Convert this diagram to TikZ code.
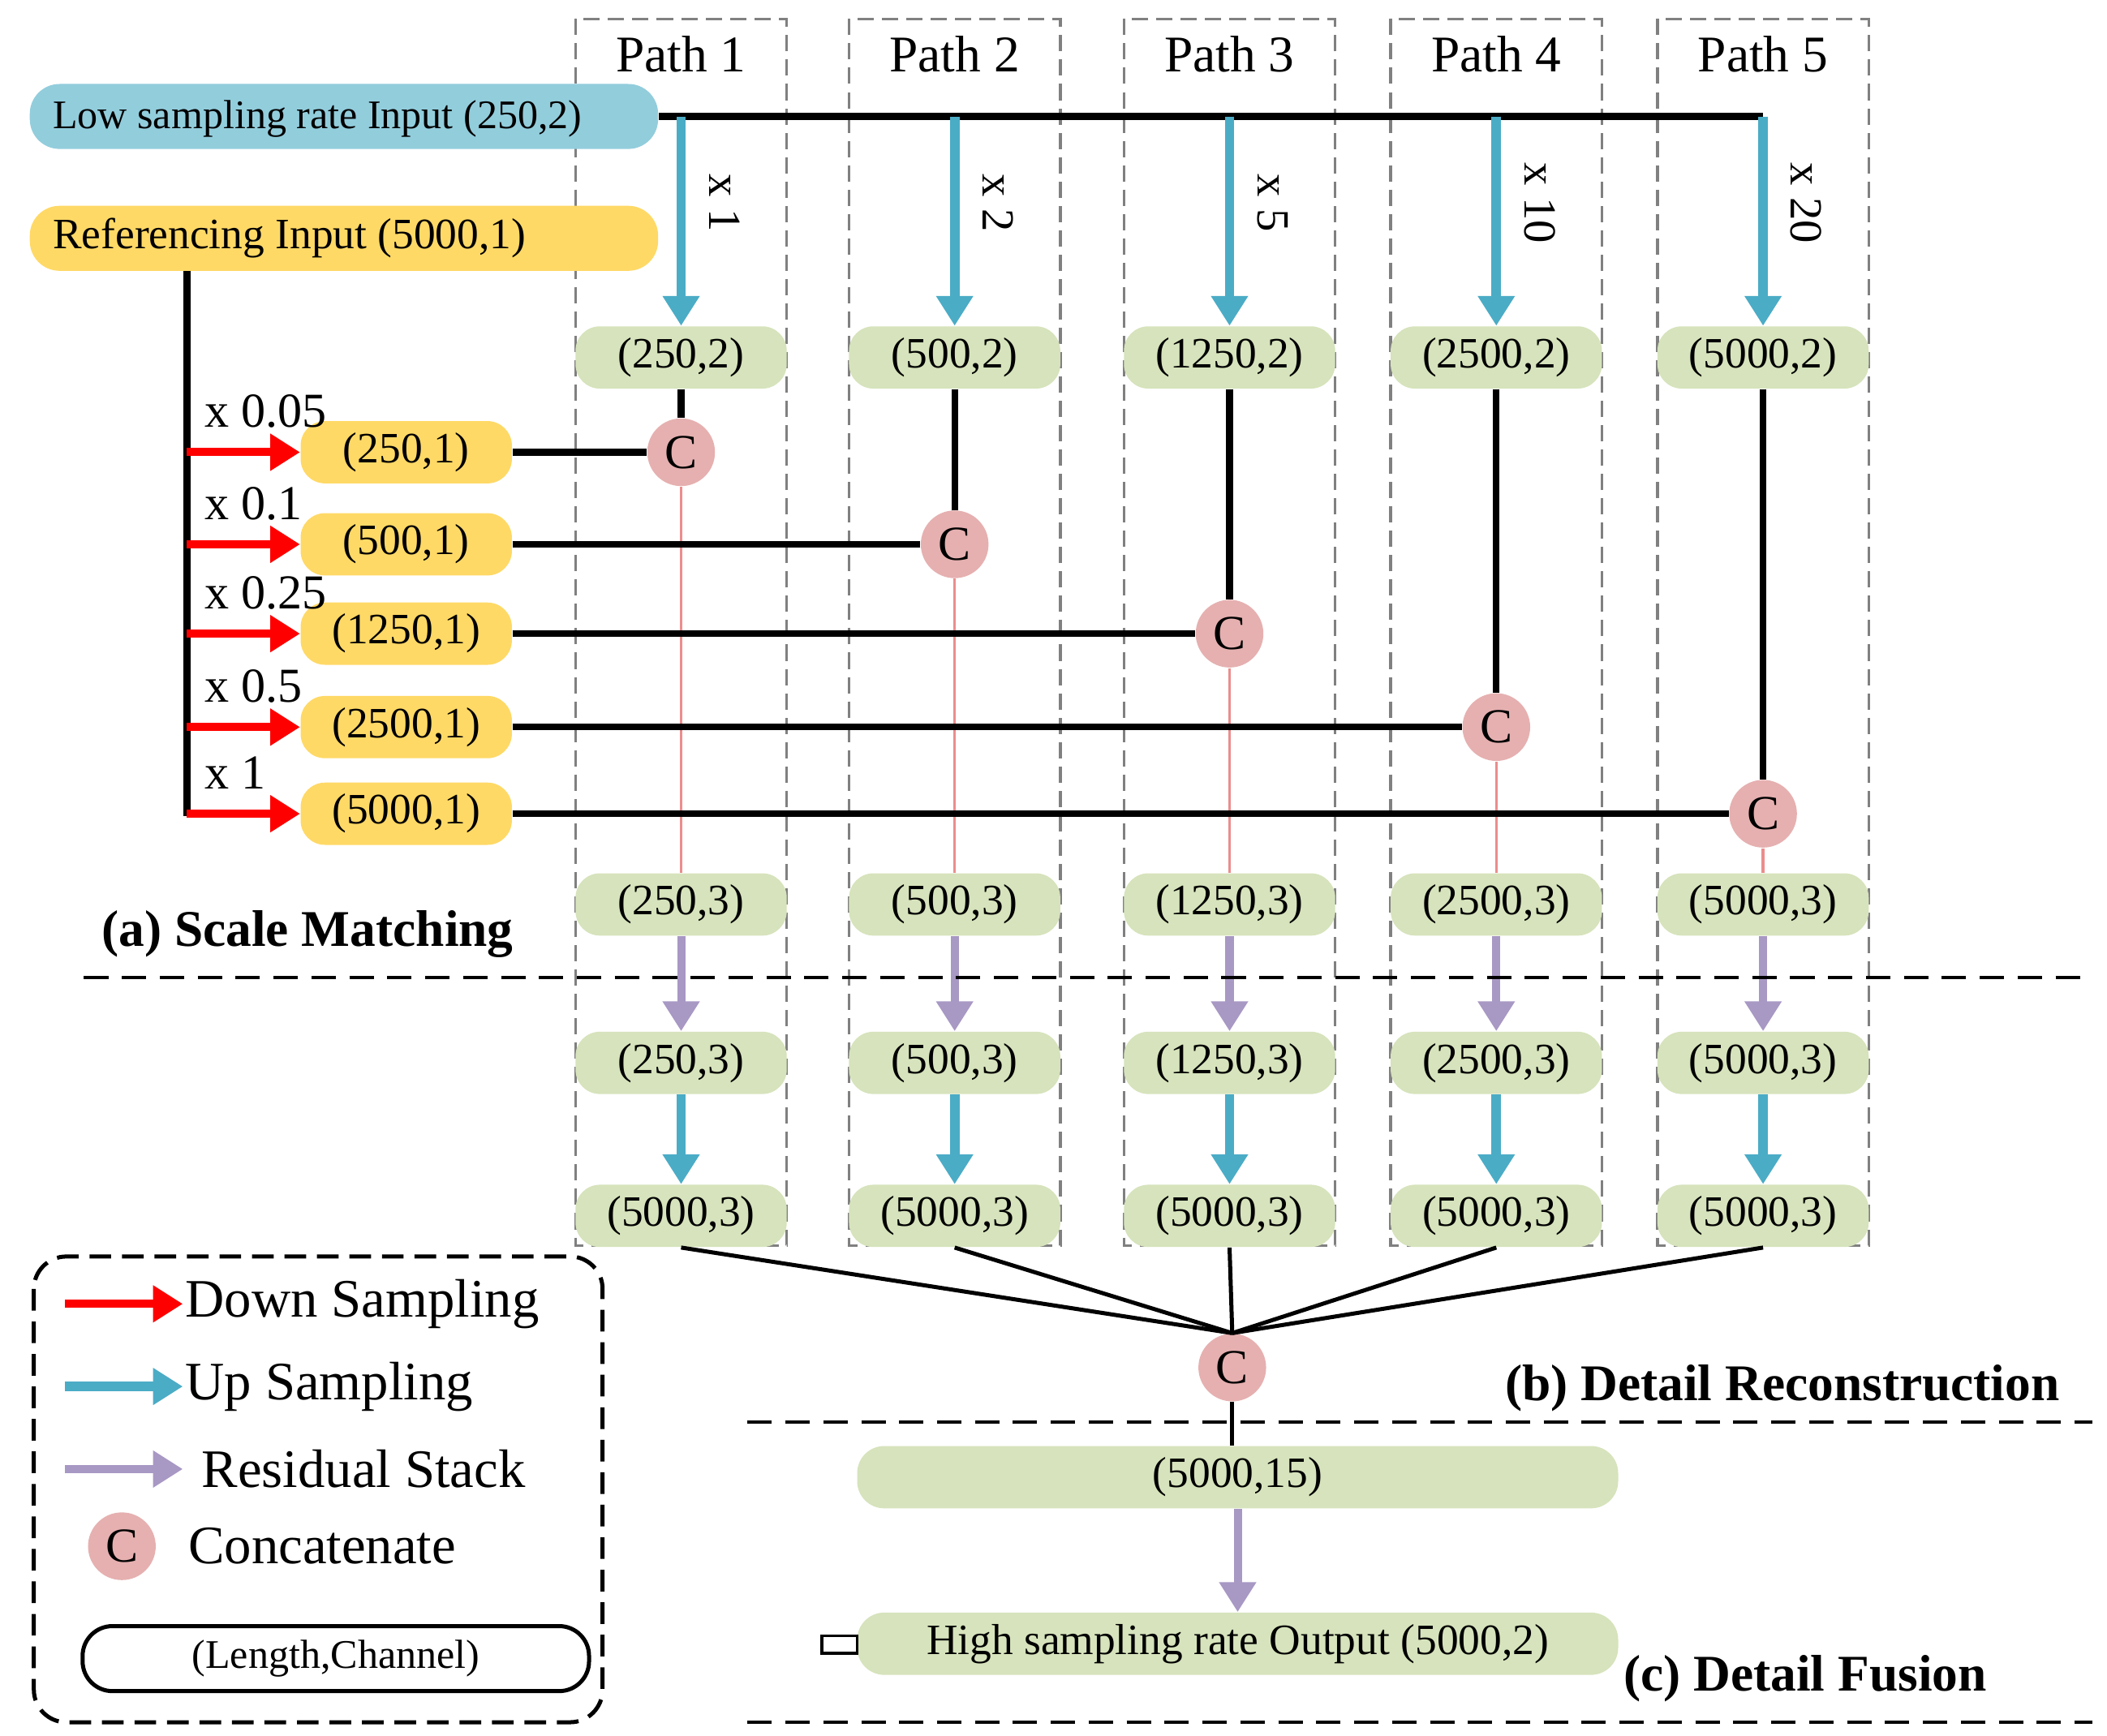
\documentclass[tikz,border=0pt]{standalone}
\usepackage{fontspec}
\setmainfont{Liberation Serif}
\usetikzlibrary{arrows.meta}
\definecolor{gbox}{RGB}{214,227,188}
\definecolor{ybox}{RGB}{255,217,102}
\definecolor{bbox}{RGB}{146,205,220}
\definecolor{cc}{RGB}{230,176,176}
\definecolor{upc}{RGB}{75,172,198}
\definecolor{resc}{RGB}{168,152,196}
\begin{document}
\begin{tikzpicture}[x=0.5pt,y=-0.5pt,
 g/.style={fill=gbox,rounded corners=9pt,minimum width=78pt,minimum height=23pt,inner sep=0pt,font=\fontsize{16}{16}\selectfont},
 yb/.style={fill=ybox,rounded corners=9pt,minimum width=78pt,minimum height=23pt,inner sep=0pt,font=\fontsize{16}{16}\selectfont},
 cn/.style={circle,fill=cc,minimum size=25pt,inner sep=0pt,font=\fontsize{18}{18}\selectfont},
 up/.style={-{Triangle[length=11pt,width=13pt]},line width=3.5pt,draw=upc},
 dn/.style={-{Triangle[length=11pt,width=13pt]},line width=3pt,draw=red},
 res/.style={-{Triangle[length=11pt,width=13pt]},line width=3pt,draw=resc},
 blk/.style={line width=2.5pt},
 pbox/.style={draw=gray,line width=1pt,dash pattern=on 6pt off 3pt},
 sep/.style={line width=1.2pt,dash pattern=on 9pt off 5pt}]
\useasboundingbox (0,0) rectangle (1556,1282);
\foreach \x/\i in {503/1,705/2,908/3,1105/4,1302/5}{
 \draw[pbox] (\x-78,14) rectangle (\x+78,920);
 \node[font=\fontsize{19}{19}\selectfont] (p\i) at (\x,40) {Path \i};
}
\node[fill=bbox,rounded corners=11pt,minimum width=232pt,minimum height=24pt,inner sep=0pt,font=\fontsize{15}{15}\selectfont] (low) at (254,86) {};
\node[anchor=west,font=\fontsize{15}{15}\selectfont] (lowt) at (32,88) {Low sampling rate Input (250,2)};
\node[fill=ybox,rounded corners=11pt,minimum width=232pt,minimum height=24pt,inner sep=0pt] (ref) at (254,176) {};
\node[anchor=west,font=\fontsize{16}{16}\selectfont] (reft) at (32,176) {Referencing Input (5000,1)};
\coordinate (tr) at (1302,86);
\draw[blk] (low.east) -- (tr);
\foreach \x/\i/\m/\lr in {503/1/x 1/250,705/2/x 2/500,908/3/x 5/1250,1105/4/x 10/2500,1302/5/x 20/5000}{
 \coordinate (t\i) at (\x,86);
 \node[g] (a\i) at (\x,264) {(\lr,2)};
 \draw[up] (t\i) -- (a\i.north);
 \node[rotate=-90,font=\fontsize{17}{17}\selectfont] (m\i) at (\x+32,150) {\m};
 \node[g] (b\i) at (\x,668) {(\lr,3)};
 \node[g] (d\i) at (\x,785) {(\lr,3)};
 \node[g] (e\i) at (\x,898) {(5000,3)};
 \draw[res] (b\i.south) -- (d\i.north);
 \draw[up] (d\i.south) -- (e\i.north);
}
\coordinate (vt) at (138,200);
\coordinate (vb) at (138,603);
\draw[blk] (vt) -- (vb);
\foreach \x/\y/\i/\lr/\lo in {503/334/1/250/0.05,705/402/2/500/0.1,908/468/3/1250/0.25,1105/537/4/2500/0.5,1302/601/5/5000/1}{
 \node[yb] (y\i) at (300,\y) {(\lr,1)};
 \node[cn] (c\i) at (\x,\y) {C};
 \coordinate (s\i) at (138,\y);
 \draw[dn] (s\i) -- (y\i.west);
 \node[anchor=west,font=\fontsize{18}{18}\selectfont] (l\i) at (144,\y-30) {x \lo};
 \draw[blk] (y\i.east) -- (c\i.west);
 \draw[blk] (a\i.south) -- (c\i.north);
 \draw[cc!80!red,line width=1pt] (c\i.south) -- (b\i.north);
}
\node[anchor=west,font=\bfseries\fontsize{19}{19}\selectfont] (ta) at (68,690) {(a) Scale Matching};
\coordinate (s1a) at (62,722); \coordinate (s1b) at (1545,722);
\draw[sep] (s1a) -- (s1b);
\node[cn] (cf) at (910,1010) {C};
\foreach \i in {1,...,5}{\draw[line width=1.5pt] (e\i.south) -- (cf.north);}
\node[anchor=east,font=\bfseries\fontsize{19}{19}\selectfont] (tb) at (1528,1025) {(b) Detail Reconstruction};
\coordinate (s2a) at (552,1050); \coordinate (s2b) at (1545,1050);
\draw[sep] (s2a) -- (s2b);
\node[fill=gbox,rounded corners=10pt,minimum width=281pt,minimum height=23pt,inner sep=0pt,font=\fontsize{16}{16}\selectfont] (w) at (914,1091) {(5000,15)};
\draw[line width=1.5pt] (cf.south) -- (w.north -| cf);
\node[fill=gbox,rounded corners=10pt,minimum width=281pt,minimum height=23pt,inner sep=0pt,font=\fontsize{16}{16}\selectfont] (out) at (914,1214) {High sampling rate Output (5000,2)};
\draw[res] (w.south) -- (out.north);
\draw[line width=1pt] (607,1208) rectangle (633,1221);
\node[anchor=west,font=\bfseries\fontsize{19}{19}\selectfont] (tc) at (1192,1240) {(c) Detail Fusion};
\coordinate (s3a) at (552,1272); \coordinate (s3b) at (1545,1272);
\draw[sep] (s3a) -- (s3b);
\draw[line width=1.5pt,dash pattern=on 8pt off 4pt,rounded corners=12pt] (25,928) rectangle (445,1272);
\coordinate (la1) at (48,963); \coordinate (lb1) at (135,963);
\draw[dn] (la1) -- (lb1);
\node[anchor=west,font=\fontsize{20}{20}\selectfont] (lt1) at (130,963) {Down Sampling};
\coordinate (la2) at (48,1024); \coordinate (lb2) at (135,1024);
\draw[up] (la2) -- (lb2);
\node[anchor=west,font=\fontsize{20}{20}\selectfont] (lt2) at (130,1024) {Up Sampling};
\coordinate (la3) at (48,1085); \coordinate (lb3) at (135,1085);
\draw[res] (la3) -- (lb3);
\node[anchor=west,font=\fontsize{20}{20}\selectfont] (lt3) at (142,1085) {Residual Stack};
\node[cn] (lc) at (90,1142) {C};
\node[anchor=west,font=\fontsize{20}{20}\selectfont] (lt4) at (132,1142) {Concatenate};
\node[draw,line width=1.5pt,rounded corners=11pt,minimum width=187pt,minimum height=24pt,inner sep=0pt,font=\fontsize{15}{15}\selectfont] (lr) at (248,1225) {(Length,Channel)};
\end{tikzpicture}
\end{document}
